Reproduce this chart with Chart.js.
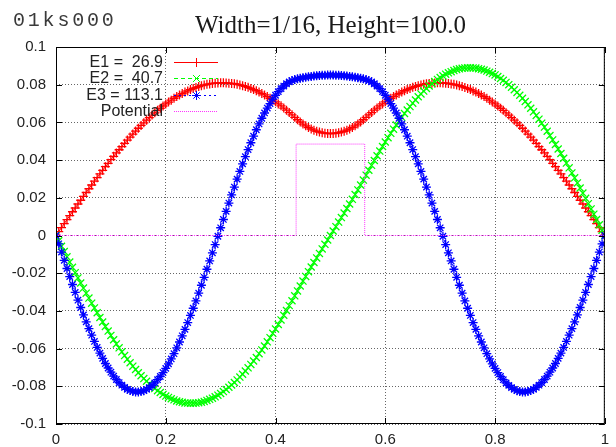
<!DOCTYPE html>
<html>
<head>
<meta charset="utf-8">
<style>
  html, body { margin: 0; padding: 0; background: #ffffff; }
  #wrap { width: 616px; height: 447px; position: relative; }
</style>
<script src="https://cdn.jsdelivr.net/npm/chart.js@4.4.1/dist/chart.umd.min.js"></script>
</head>
<body>
<div id="wrap"><canvas id="c" width="616" height="447"></canvas></div>
<script>
// ---- data ----
const xs = [
  0,0.005,0.01,0.015,0.02,0.025,0.03,0.035,0.04,0.045,
  0.05,0.055,0.06,0.065,0.07,0.075,0.08,0.085,0.09,0.095,
  0.10,0.105,0.11,0.115,0.12,0.125,0.13,0.135,0.14,0.145,
  0.15,0.155,0.16,0.165,0.17,0.175,0.18,0.185,0.19,0.195,
  0.20,0.205,0.21,0.215,0.22,0.225,0.23,0.235,0.24,0.245,
  0.25,0.255,0.26,0.265,0.27,0.275,0.28,0.285,0.29,0.295,
  0.30,0.305,0.31,0.315,0.32,0.325,0.33,0.335,0.34,0.345,
  0.35,0.355,0.36,0.365,0.37,0.375,0.38,0.385,0.39,0.395,
  0.40,0.405,0.41,0.415,0.42,0.425,0.43,0.435,0.44,0.445,
  0.45,0.455,0.46,0.465,0.47,0.475,0.48,0.485,0.49,0.495,
  0.50,
  0.505,0.51,0.515,0.52,0.525,0.53,0.535,0.54,0.545,0.55,
  0.555,0.56,0.565,0.57,0.575,0.58,0.585,0.59,0.595,0.60,
  0.605,0.61,0.615,0.62,0.625,0.63,0.635,0.64,0.645,0.65,
  0.655,0.66,0.665,0.67,0.675,0.68,0.685,0.69,0.695,0.70,
  0.705,0.71,0.715,0.72,0.725,0.73,0.735,0.74,0.745,0.75,
  0.755,0.76,0.765,0.77,0.775,0.78,0.785,0.79,0.795,0.80,
  0.805,0.81,0.815,0.82,0.825,0.83,0.835,0.84,0.845,0.85,
  0.855,0.86,0.865,0.87,0.875,0.88,0.885,0.89,0.895,0.90,
  0.905,0.91,0.915,0.92,0.925,0.93,0.935,0.94,0.945,0.95,
  0.955,0.96,0.965,0.97,0.975,0.98,0.985,0.99,0.995,1.00];

const e1 = [
  0,0.0021,0.0042,0.0063,0.0084,0.0105,0.0126,0.0146,0.0167,0.0187,
  0.0208,0.0228,0.0248,0.0268,0.0288,0.0307,0.0327,0.0346,0.0365,0.0383,
  0.0402,0.0420,0.0438,0.0455,0.0472,0.0489,0.0506,0.0522,0.0538,0.0554,
  0.0569,0.0584,0.0598,0.0612,0.0625,0.0639,0.0651,0.0664,0.0675,0.0687,
  0.0698,0.0708,0.0718,0.0728,0.0737,0.0745,0.0753,0.0761,0.0767,0.0774,
  0.0780,0.0785,0.0790,0.0795,0.0798,0.0802,0.0804,0.0807,0.0808,0.0809,
  0.0810,0.0810,0.0809,0.0808,0.0807,0.0805,0.0802,0.0799,0.0795,0.0791,
  0.0786,0.0780,0.0774,0.0768,0.0761,0.0753,0.0746,0.0737,0.0728,0.0719,
  0.0709,0.0698,0.0688,0.0676,0.0665,0.0652,0.0640,0.0627,0.0614,0.0602,
  0.0591,0.0582,0.0573,0.0565,0.0559,0.0553,0.0549,0.0545,0.0543,0.0541,
  0.0541,
  0.0541,0.0543,0.0545,0.0549,0.0553,0.0559,0.0565,0.0573,0.0582,0.0591,
  0.0602,0.0614,0.0627,0.0640,0.0652,0.0665,0.0676,0.0688,0.0698,0.0709,
  0.0719,0.0728,0.0737,0.0746,0.0753,0.0761,0.0768,0.0774,0.0780,0.0786,
  0.0791,0.0795,0.0799,0.0802,0.0805,0.0807,0.0808,0.0809,0.0810,0.0810,
  0.0809,0.0808,0.0807,0.0804,0.0802,0.0798,0.0795,0.0790,0.0785,0.0780,
  0.0774,0.0767,0.0761,0.0753,0.0745,0.0737,0.0728,0.0718,0.0708,0.0698,
  0.0687,0.0675,0.0664,0.0651,0.0639,0.0625,0.0612,0.0598,0.0584,0.0569,
  0.0554,0.0538,0.0522,0.0506,0.0489,0.0472,0.0455,0.0438,0.0420,0.0402,
  0.0383,0.0365,0.0346,0.0327,0.0307,0.0288,0.0268,0.0248,0.0228,0.0208,
  0.0187,0.0167,0.0146,0.0126,0.0105,0.0084,0.0063,0.0042,0.0021,0];

const e2 = [
  0,-0.0028,-0.0057,-0.0085,-0.0113,-0.0141,-0.0169,-0.0197,-0.0225,-0.0252,
  -0.0279,-0.0306,-0.0332,-0.0359,-0.0384,-0.0410,-0.0435,-0.0459,-0.0483,-0.0507,
  -0.0530,-0.0553,-0.0575,-0.0596,-0.0617,-0.0637,-0.0656,-0.0675,-0.0693,-0.0711,
  -0.0728,-0.0744,-0.0759,-0.0773,-0.0787,-0.0800,-0.0812,-0.0823,-0.0833,-0.0843,
  -0.0852,-0.0859,-0.0866,-0.0872,-0.0878,-0.0882,-0.0885,-0.0888,-0.0889,-0.0890,
  -0.0890,-0.0889,-0.0887,-0.0884,-0.0880,-0.0875,-0.0869,-0.0863,-0.0856,-0.0847,
  -0.0838,-0.0828,-0.0817,-0.0805,-0.0793,-0.0780,-0.0766,-0.0751,-0.0736,-0.0719,
  -0.0702,-0.0684,-0.0666,-0.0647,-0.0627,-0.0607,-0.0586,-0.0564,-0.0542,-0.0519,
  -0.0496,-0.0472,-0.0448,-0.0423,-0.0398,-0.0372,-0.0346,-0.0320,-0.0294,-0.0268,
  -0.0242,-0.0217,-0.0192,-0.0167,-0.0143,-0.0119,-0.0095,-0.0071,-0.0047,-0.0024,
  0,
  0.0024,0.0047,0.0071,0.0095,0.0119,0.0143,0.0167,0.0192,0.0217,0.0242,
  0.0268,0.0294,0.0320,0.0346,0.0372,0.0398,0.0423,0.0448,0.0472,0.0496,
  0.0519,0.0542,0.0564,0.0586,0.0607,0.0627,0.0647,0.0666,0.0684,0.0702,
  0.0719,0.0736,0.0751,0.0766,0.0780,0.0793,0.0805,0.0817,0.0828,0.0838,
  0.0847,0.0856,0.0863,0.0869,0.0875,0.0880,0.0884,0.0887,0.0889,0.0890,
  0.0890,0.0889,0.0888,0.0885,0.0882,0.0878,0.0872,0.0866,0.0859,0.0852,
  0.0843,0.0833,0.0823,0.0812,0.0800,0.0787,0.0773,0.0759,0.0744,0.0728,
  0.0711,0.0693,0.0675,0.0656,0.0637,0.0617,0.0596,0.0575,0.0553,0.0530,
  0.0507,0.0483,0.0459,0.0435,0.0410,0.0384,0.0359,0.0332,0.0306,0.0279,
  0.0252,0.0225,0.0197,0.0169,0.0141,0.0113,0.0085,0.0057,0.0028,0];

const e3 = [
  0,-0.0044,-0.0088,-0.0132,-0.0175,-0.0218,-0.0260,-0.0302,-0.0343,-0.0382,
  -0.0421,-0.0458,-0.0494,-0.0529,-0.0562,-0.0594,-0.0624,-0.0652,-0.0679,-0.0703,
  -0.0725,-0.0746,-0.0764,-0.0780,-0.0794,-0.0806,-0.0816,-0.0822,-0.0827,-0.0830,
  -0.0830,-0.0828,-0.0823,-0.0816,-0.0807,-0.0795,-0.0782,-0.0765,-0.0748,-0.0727,
  -0.0705,-0.0681,-0.0655,-0.0627,-0.0596,-0.0565,-0.0532,-0.0498,-0.0462,-0.0424,
  -0.0386,-0.0347,-0.0306,-0.0264,-0.0222,-0.0179,-0.0135,-0.0092,-0.0048,-0.0004,
  0.0041,0.0085,0.0128,0.0172,0.0215,0.0257,0.0299,0.0340,0.0380,0.0418,
  0.0456,0.0492,0.0527,0.0561,0.0592,0.0622,0.0650,0.0676,0.0700,0.0724,
  0.0744,0.0763,0.0779,0.0793,0.0805,0.0815,0.0822,0.0827,0.0831,0.0834,
  0.0837,0.0840,0.0842,0.0844,0.0846,0.0848,0.0849,0.0850,0.0850,0.0851,
  0.0851,
  0.0851,0.0850,0.0850,0.0849,0.0848,0.0846,0.0844,0.0842,0.0840,0.0837,
  0.0834,0.0831,0.0827,0.0822,0.0815,0.0805,0.0793,0.0779,0.0763,0.0744,
  0.0724,0.0700,0.0676,0.0650,0.0622,0.0592,0.0561,0.0527,0.0492,0.0456,
  0.0418,0.0380,0.0340,0.0299,0.0257,0.0215,0.0172,0.0128,0.0085,0.0041,
  -0.0004,-0.0048,-0.0092,-0.0135,-0.0179,-0.0222,-0.0264,-0.0306,-0.0347,-0.0386,
  -0.0424,-0.0462,-0.0498,-0.0532,-0.0565,-0.0596,-0.0627,-0.0655,-0.0681,-0.0705,
  -0.0727,-0.0748,-0.0765,-0.0782,-0.0795,-0.0807,-0.0816,-0.0823,-0.0828,-0.0830,
  -0.0830,-0.0827,-0.0822,-0.0816,-0.0806,-0.0794,-0.0780,-0.0764,-0.0746,-0.0725,
  -0.0703,-0.0679,-0.0652,-0.0624,-0.0594,-0.0562,-0.0529,-0.0494,-0.0458,-0.0421,
  -0.0382,-0.0343,-0.0302,-0.0260,-0.0218,-0.0175,-0.0132,-0.0088,-0.0044,0];

const potX = [0, 0.4375, 0.4375, 0.5625, 0.5625, 1];
const potY = [0, 0, 0.0485, 0.0485, 0, 0];

const legendLabels = ['E1 =  26.9', 'E2 =  40.7', 'E3 = 113.1', 'Potential'];
const titleText = 'Width=1/16, Height=100.0';
const cornerText = '01ks000';

const xTicks = [0, 0.2, 0.4, 0.6, 0.8, 1];
const yTicks = [-0.1, -0.08, -0.06, -0.04, -0.02, 0, 0.02, 0.04, 0.06, 0.08, 0.1];

// ---- build ----
function pts(xv, yv) { return xv.map((x, i) => ({ x: x, y: yv[i] })); }
function fmt(v) { return String(Number(Number(v).toFixed(3))); }

const series = [
  { label: legendLabels[0], data: pts(xs, e1), color: '#ff0000', dash: [], style: 'cross', r: 4.5, order: 3 },
  { label: legendLabels[1], data: pts(xs, e2), color: '#00ff00', dash: [4, 3], style: 'crossRot', r: 5, order: 2 },
  { label: legendLabels[2], data: pts(xs, e3), color: '#0000ff', dash: [2, 3], style: 'star', r: 4.5, order: 1 },
  { label: legendLabels[3], data: pts(potX, potY), color: '#ff33ff', dash: [1, 1], style: 'circle', r: 0, order: 0 }
];

const datasets = series.map(s => ({
  label: s.label,
  data: s.data,
  showLine: true,
  borderColor: s.color,
  backgroundColor: s.color,
  borderWidth: 1,
  borderDash: s.dash,
  pointStyle: s.style,
  pointRadius: s.r,
  pointBorderColor: s.color,
  pointBorderWidth: 1.3,
  pointHoverRadius: s.r,
  tension: 0,
  order: s.order
}));

const TICK_FONT = { family: '"Liberation Sans", Arial, sans-serif', size: 15 };

const decor = {
  id: 'decor',
  beforeDraw(chart) {
    const ctx = chart.ctx;
    ctx.save();
    ctx.fillStyle = '#ffffff';
    ctx.fillRect(0, 0, chart.width, chart.height);
    ctx.restore();
  },
  afterDatasetsDraw(chart) {
    const ctx = chart.ctx;
    const a = chart.chartArea;
    const xs_ = chart.scales.x, ys_ = chart.scales.y;
    ctx.save();
    // border
    ctx.strokeStyle = '#000000';
    ctx.lineWidth = 1;
    ctx.setLineDash([]);
    ctx.strokeRect(a.left + 0.5, a.top + 0.5, a.right - a.left - 1, a.bottom - a.top - 1);
    // inward ticks on all sides
    const tl = 6;
    ctx.beginPath();
    xTicks.forEach(v => {
      const px = Math.round(xs_.getPixelForValue(v)) + 0.5;
      ctx.moveTo(px, a.bottom); ctx.lineTo(px, a.bottom - tl);
      ctx.moveTo(px, a.top); ctx.lineTo(px, a.top + tl);
    });
    yTicks.forEach(v => {
      const py = Math.round(ys_.getPixelForValue(v)) + 0.5;
      ctx.moveTo(a.left, py); ctx.lineTo(a.left + tl, py);
      ctx.moveTo(a.right, py); ctx.lineTo(a.right - tl, py);
    });
    ctx.stroke();

    // legend (inside, top-left)
    ctx.font = '16px "Liberation Sans", Arial, sans-serif';
    ctx.textAlign = 'right';
    ctx.textBaseline = 'alphabetic';
    const rows = [62, 78.3, 94.5, 110.5];
    series.forEach((s, i) => {
      const y = Math.round(rows[i]) + 0.5;
      ctx.fillStyle = '#222222';
      ctx.fillText(s.label, 163, rows[i] + 5);
      if (s.r > 0) {
        ctx.strokeStyle = s.color;
        ctx.lineWidth = 1;
        ctx.setLineDash(s.dash);
        ctx.beginPath();
        ctx.moveTo(174, y);
        ctx.lineTo(218, y);
        ctx.stroke();
        ctx.setLineDash([]);
        ctx.fillStyle = s.color;
        Chart.helpers.drawPoint(ctx, {
          pointStyle: s.style, radius: s.r, borderWidth: 1.3, rotation: 0
        }, 196.5, y);
      } else {
        // dotted sample drawn as individual pixels
        ctx.fillStyle = s.color;
        for (let px = 174; px < 218; px += 2) {
          ctx.fillRect(px, y - 0.5, 1, 1);
        }
      }
    });

    // title
    ctx.fillStyle = '#1a1a1a';
    ctx.textAlign = 'center';
    ctx.font = '25px "Liberation Serif", "Times New Roman", serif';
    ctx.fillText(titleText, (a.left + a.right) / 2, 33);

    // corner label
    ctx.textAlign = 'left';
    ctx.fillStyle = '#3a3a3a';
    ctx.font = '20px "Liberation Mono", "Courier New", monospace';
    if ('letterSpacing' in ctx) ctx.letterSpacing = '2.8px';
    ctx.fillText(cornerText, 13, 26);
    ctx.restore();
  }
};

new Chart(document.getElementById('c'), {
  type: 'scatter',
  data: { datasets: datasets },
  options: {
    responsive: false,
    animation: false,
    devicePixelRatio: 1,
    events: [],
    layout: { padding: { left: 0, right: 11, top: 47, bottom: 0 } },
    plugins: { legend: { display: false }, title: { display: false }, tooltip: { enabled: false } },
    scales: {
      x: {
        type: 'linear', min: 0, max: 1,
        afterBuildTicks: (sc) => { sc.ticks = xTicks.map(v => ({ value: v })); },
        afterFit: (sc) => { sc.height = 23; },
        ticks: { font: TICK_FONT, color: '#222222', padding: 7, maxRotation: 0, autoSkip: false, callback: (v) => fmt(v) },
        grid: { color: 'rgba(0,0,0,0.6)', lineWidth: 1, drawTicks: false },
        border: { display: false, dash: [1, 2] }
      },
      y: {
        type: 'linear', min: -0.1, max: 0.1,
        afterBuildTicks: (sc) => { sc.ticks = yTicks.map(v => ({ value: v })); },
        afterFit: (sc) => { sc.width = 56; },
        ticks: { font: TICK_FONT, color: '#222222', padding: 10, autoSkip: false, callback: (v) => fmt(v) },
        grid: { color: 'rgba(0,0,0,0.6)', lineWidth: 1, drawTicks: false },
        border: { display: false, dash: [1, 2] }
      }
    }
  },
  plugins: [decor]
});
</script>
</body>
</html>
